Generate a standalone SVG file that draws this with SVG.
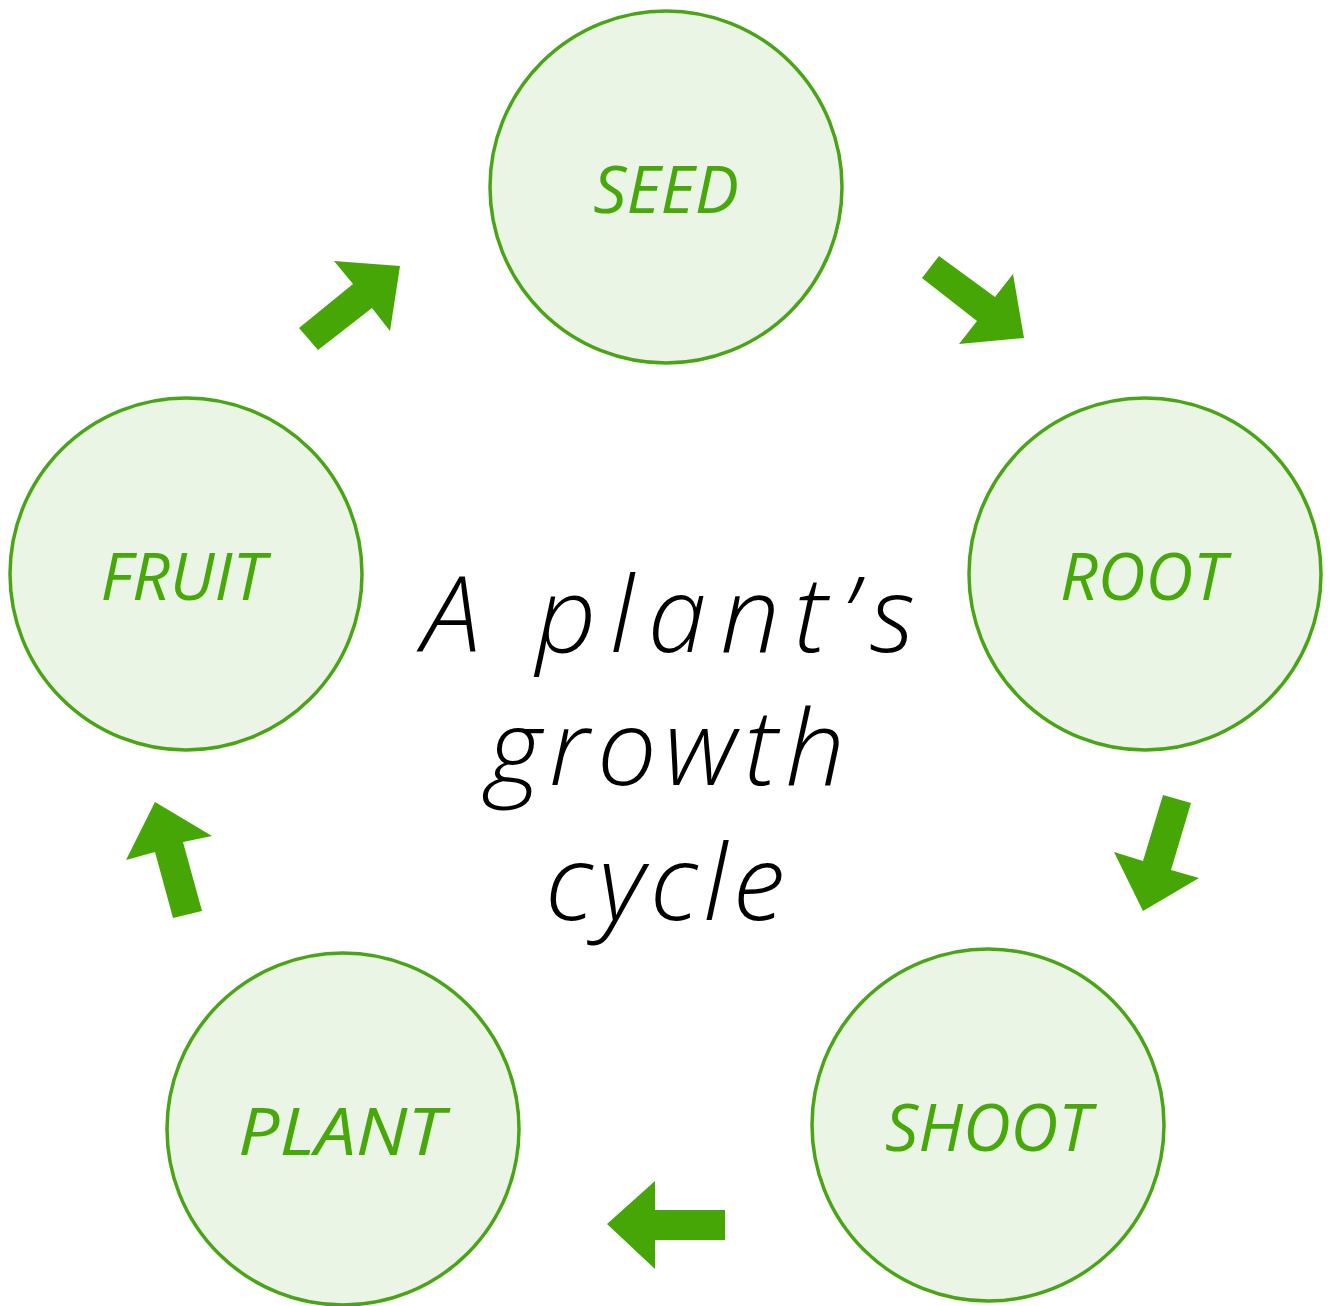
<svg xmlns="http://www.w3.org/2000/svg" width="1330" height="1306" viewBox="0 0 1330 1306">
<style>
.node circle{fill:#ebf5e6;stroke:#4aa516;stroke-width:3.5}
.node text{font-family:"Open Sans","Liberation Sans",sans-serif;font-style:italic;font-size:66px;fill:#47a80a;text-anchor:middle}
.arrow{fill:#45a606}
.title{font-family:"Open Sans","Liberation Sans",sans-serif;font-style:italic;font-weight:300;font-size:106px;fill:#000}
</style>
<rect width="1330" height="1306" fill="#ffffff"/>
<g id="seed" class="node"><circle cx="666" cy="187" r="176"/><text x="666" y="213">SEED</text></g>
<g id="root" class="node"><circle cx="1145" cy="574" r="176"/><text x="1143" y="600">ROOT</text></g>
<g id="shoot" class="node"><circle cx="988" cy="1125" r="176"/><text x="988" y="1151">SHOOT</text></g>
<g id="plant" class="node"><circle cx="343" cy="1129" r="176"/><text x="341" y="1155" textLength="206" lengthAdjust="spacingAndGlyphs">PLANT</text></g>
<g id="fruit" class="node"><circle cx="186" cy="574" r="176"/><text x="183" y="600">FRUIT</text></g>
<g id="connectors">
<polygon class="arrow" points="299,328 318,350 372,308 390,331 400,266 334,261 353,284"/>
<polygon class="arrow" points="922,278 939,256 995,297 1013,274 1024,338 959,344 977,321"/>
<polygon class="arrow" points="1163,795 1191,803 1171,870 1199,878 1143,911 1114,852 1143,861"/>
<polygon class="arrow" points="725,1210 655,1210 655,1181 607,1224 655,1269 655,1240 725,1240"/>
<polygon class="arrow" points="173,918 202,911 183,842 212,836 155,802 126,860 155,852"/>
</g>
<g id="title">
<text class="title" x="422" y="652" textLength="493" lengthAdjust="spacing">A plant’s</text>
<text class="title" x="487" y="785" textLength="358" lengthAdjust="spacing">growth</text>
<text class="title" x="545" y="920" textLength="240" lengthAdjust="spacing">cycle</text>
</g>
</svg>
